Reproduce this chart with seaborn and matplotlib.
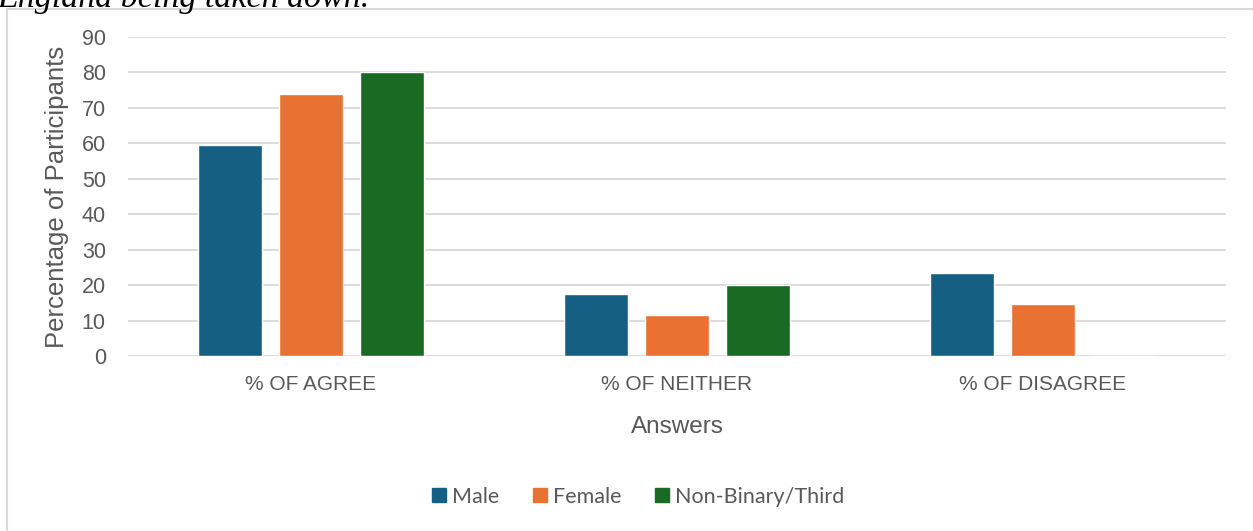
import matplotlib
matplotlib.use("Agg")
import matplotlib.pyplot as plt
from matplotlib.patches import Rectangle
from matplotlib.lines import Line2D
import seaborn as sns
import pandas as pd

# Survey answers by gender (percentage of participants)
answers = ["% OF AGREE", "% OF NEITHER", "% OF DISAGREE"]
genders = ["Male", "Female", "Non-Binary/Third"]
male = [59.5, 17.5, 23.3]
female = [74.0, 11.6, 14.6]
non_binary = [80.0, 20.0, 0.0]
y_ticks = [0, 10, 20, 30, 40, 50, 60, 70, 80, 90]

colors = ["#156082", "#E97132", "#196B24"]
text_gray = "#595959"
grid_gray = "#D9D9D9"

df = pd.DataFrame({
    "Answers": answers * 3,
    "Gender": [g for g in genders for _ in answers],
    "Percent": male + female + non_binary,
})

sns.set_theme(style="white")
plt.rcParams["font.family"] = ["Liberation Sans", "DejaVu Sans"]

W, H = 1253, 531
fig = plt.figure(figsize=(W / 100, H / 100), dpi=100)
ax = fig.add_axes([128 / W, 1 - 356 / H, (1226 - 128) / W, (356 - 37) / H])

sns.barplot(data=df, x="Answers", y="Percent", hue="Gender", order=answers,
            hue_order=genders, palette=colors, width=0.664, gap=0.222,
            saturation=1, legend=False, ax=ax)

ax.set_ylim(0, 90)
ax.set_yticks(y_ticks)
ax.set_xlim(-0.5, 2.5)
ax.grid(axis="y", color=grid_gray, linewidth=1.3)
ax.set_axisbelow(True)
for s in ax.spines.values():
    s.set_visible(False)
ax.tick_params(axis="both", length=0, colors=text_gray)
ax.tick_params(axis="y", pad=16, labelsize=15.5)
ax.tick_params(axis="x", pad=14, labelsize=15)

ax.set_ylabel("Percentage of Participants", fontsize=18.5, color=text_gray)
ax.yaxis.set_label_coords((57 - 128) / 1098, 0.5)
ax.set_xlabel("Answers", fontsize=17.5, color=text_gray)
ax.xaxis.set_label_coords(0.5, (356 - 427) / 319)
ax.xaxis.label.set_va("center")
ax.yaxis.label.set_va("center")

# Chart frame, running off the right and bottom edges
fig.patches.append(Rectangle((7 / W, -0.2), 1.2, 1.2 - 9 / H,
                             transform=fig.transFigure, fill=False,
                             edgecolor=grid_gray, linewidth=1.5))

# Caption text from above the chart, partly cut off
fig.text(-0.002, 1 - 6.5 / H, "England being taken down.", fontsize=24.5,
         style="italic", family="Liberation Serif", color="black",
         va="baseline", ha="left")

handles = [Line2D([], [], marker="s", linestyle="", markersize=10.5,
                  markerfacecolor=c, markeredgecolor=c) for c in colors]
fig.legend(handles, genders, loc="center", bbox_to_anchor=(636 / W, 1 - 497 / H),
           ncol=3, frameon=False, labelcolor=text_gray,
           handletextpad=0.1, columnspacing=1.4, handlelength=1.0,
           prop={"family": ["Lato", "DejaVu Sans"], "size": 15.5})

fig.savefig("out.png", dpi=100, facecolor="white")
